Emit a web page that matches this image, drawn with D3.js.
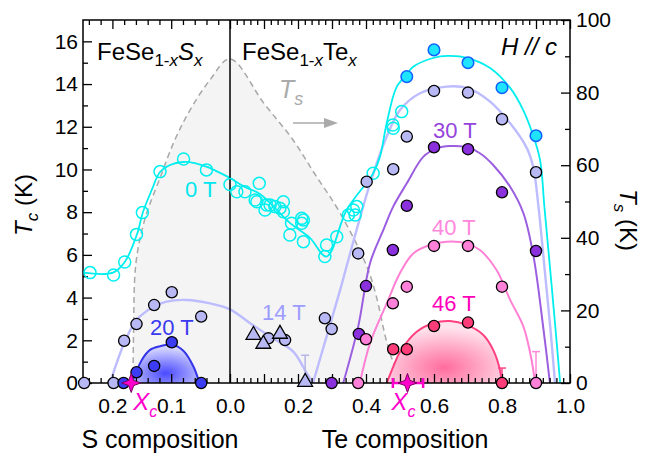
<!DOCTYPE html>
<html>
<head>
<meta charset="utf-8">
<script src="https://d3js.org/d3.v7.min.js"></script>
<style>
body { margin: 0; background: #fff; }
svg { font-family: "Liberation Sans", Arial, sans-serif; }
.tick line { stroke: #000; stroke-width: 1.3; }
.tick text { font-size: 21px; fill: #000; font-family: "Liberation Sans", Arial, sans-serif; }
</style>
</head>
<body>
<svg></svg>
<script>

var width = 664;
var height = 456;

// composition axis: negative = S content (FeSe1-xSx), positive = Te content (FeSe1-xTex)
// every point is [composition, Tc (K)]

// 0 T, open circles
var open0T = [[-0.238,5.17],[-0.198,5.06],[-0.179,5.67],[-0.159,6.96],[-0.149,7.98],[-0.119,9.9],[-0.079,10.49],[-0.040,9.98],[0,9.3],
  [0.020,8.96],[0.044,8.96],[0.074,8.57],[0.079,8.49],[0.086,9.35],[0.103,8.10],[0.108,8.34],[0.118,8.34],[0.132,8.26],[0.147,8.18],
  [0.157,8.49],[0.157,8.02],[0.176,6.93],[0.181,7.48],[0.211,7.71],[0.216,7.63],[0.211,7.48],[0.216,6.62],[0.279,5.92],[0.284,6.46],
  [0.314,6.85],[0.348,7.87],[0.363,8.10],[0.368,7.87],[0.373,8.26],[0.421,9.82],[0.479,12.08],[0.480,11.93],[0.505,12.71]];
var filled0T = [[0.52,14.35],[0.6,15.6],[0.7,15.0],[0.8,13.83],[0.9,11.58]];
var fit0T = [[-0.25,5.17],[-0.199,5.17],[-0.179,5.67],[-0.158,6.98],[-0.148,8.01],[-0.133,9.04],[-0.119,9.88],[-0.102,10.21],
  [-0.080,10.35],[-0.060,10.30],[-0.039,10.12],[-0.017,9.84],[0,9.6],[0.044,9.18],[0.088,8.85],[0.176,7.5],[0.235,6.8],[0.284,5.92],
  [0.343,8.10],[0.421,9.82],[0.441,10.59],[0.461,12.18],[0.490,13.86],[0.520,14.45],[0.538,14.80],[0.597,15.22],[0.641,15.32],
  [0.700,15.22],[0.765,14.75],[0.824,13.82],[0.862,12.79],[0.891,11.62],[0.912,10.44],[0.925,8.2],[0.94,5.6],[0.957,2.6],[0.971,0]];

// 14 T
var dots14T = [[-0.248,0],[-0.198,0],[-0.18,1.98],[-0.159,2.76],[-0.129,3.65],[-0.099,4.25],[-0.049,3.11],
  [0.113,2.09],[0.162,2.01],[0.279,3.03],[0.299,2.53],[0.377,6.07],[0.402,9.43],[0.48,10.01],[0.52,11.54],[0.6,13.68],[0.7,13.6],[0.8,12.35],[0.9,9.87]];
var tri14T = [[0.069,2.2],[0.098,1.78],[0.147,2.25],[0.221,0]];
var fit14Ta = [[-0.204,0],[-0.18,1.86],[-0.159,2.95],[-0.130,3.57],[-0.108,3.81],[-0.074,3.89],[-0.034,3.73],[0,3.45],
  [0.059,2.80],[0.127,2.09],[0.186,1.47],[0.226,0.45],[0.244,0]];
var fit14Tb = [[0.244,0],[0.284,2.17],[0.324,4.36],[0.348,5.76],[0.412,9.35],[0.461,11.54],[0.5,12.79],[0.559,13.57],[0.637,13.88],
  [0.701,13.80],[0.765,13.18],[0.824,12.16],[0.873,11.0],[0.892,10.1],[0.907,8.3],[0.925,5.4],[0.942,2.6],[0.956,0]];

// 20 T
var dots20T = [[-0.181,0],[-0.159,0.5],[-0.129,0.8],[-0.099,1.91],[-0.049,0]];
var dome20T = [[-0.167,0],[-0.150,1.08],[-0.136,1.55],[-0.119,1.72],[-0.099,1.8],[-0.079,1.5],[-0.062,0.76],[-0.052,0]];

// 30 T
var dots30T = [[0.299,0],[0.379,2.30],[0.4,4.54],[0.479,6.23],[0.52,8.30],[0.6,11.04],[0.7,10.95],[0.8,8.93],[0.9,6.18]];
var fit30T = [[0.333,0],[0.377,2.64],[0.412,5.62],[0.451,7.17],[0.480,8.26],[0.520,9.35],[0.569,10.60],[0.608,10.99],[0.647,11.10],
  [0.696,11.04],[0.735,10.76],[0.774,10.21],[0.824,9.19],[0.863,7.95],[0.892,6.0],[0.921,2.64],[0.941,0]];

// 40 T
var dots40T = [[0.377,0],[0.4,2.05],[0.479,3.73],[0.52,4.51],[0.6,6.42],[0.7,6.42],[0.8,4.51],[0.9,0]];
var fit40T = [[0.382,0],[0.412,1.87],[0.461,3.73],[0.5,5.15],[0.539,6.07],[0.588,6.46],[0.637,6.62],[0.696,6.54],[0.735,6.23],
  [0.784,5.29],[0.824,3.89],[0.863,2.64],[0.887,1.08],[0.897,0]];

// 46 T
var dots46T = [[0.48,1.58],[0.52,1.58],[0.6,2.67],[0.7,2.83],[0.8,0]];
var dome46T = [[0.461,0],[0.480,0.76],[0.5,1.45],[0.549,2.40],[0.598,2.80],[0.647,2.90],[0.696,2.72],[0.745,2.25],[0.774,1.55],[0.794,0.61],[0.799,0]];

// upper error bars [composition, Tc top, colour]
var errBars = [[0.221,1.3,"#b4b4e6"],[0.9,1.47,"#ff88dd"],[0.8,0.7,"#ff4488"]];

// structural transition Ts (K), right axis
var tsLine = [[-0.165,0],[-0.164,14],[-0.160,33],[-0.145,45],[-0.119,56.5],[-0.094,66.9],[-0.068,75.2],[-0.034,83.5],
  [0,89.3],[0.1,77],[0.185,67],[0.25,57.5],[0.324,46.8],[0.403,32],[0.43,24],[0.462,11],[0.49,3.5],[0.515,0]];

// critical compositions Xc
var xcS = -0.168;
var xcTe = [0.522, 0.479, 0.568];

var xLabels = [-0.2,-0.1,0,0.2,0.4,0.6,0.8,1.0];
var tcLabels = [0,2,4,6,8,10,12,14,16];
var tsLabels = [0,20,40,60,80,100];

var svg = d3.select("svg").attr("width", width).attr("height", height);

var x = d3.scaleLinear().domain([-0.25, 0, 1]).range([83, 230, 570]);
var y = d3.scaleLinear().domain([0, 17]).range([383, 20]);
var yTs = d3.scaleLinear().domain([0, 100]).range([383, 20]);

var defs = svg.append("defs");
function radial(id, c0, c1) {
	var g = defs.append("radialGradient").attr("id", id).attr("cx", "50%").attr("cy", "75%").attr("r", "65%");
	g.append("stop").attr("offset", "0%").attr("stop-color", c0);
	g.append("stop").attr("offset", "100%").attr("stop-color", c1);
}
radial("g20", "#4a4aff", "#d4d4ff");
radial("g46", "#ff6c9e", "#ffe4ee");

var fitLine = d3.line()
	.x(function(d) { return x(d[0]); })
	.y(function(d) { return y(d[1]); })
	.curve(d3.curveCatmullRom.alpha(0.5));

var fitArea = d3.area()
	.x(function(d) { return x(d[0]); })
	.y0(y(0))
	.y1(function(d) { return y(d[1]); })
	.curve(d3.curveCatmullRom.alpha(0.5));

// Ts dome, grey fill + dashed line
var tsArea = d3.area()
	.x(function(d) { return x(d[0]); })
	.y0(yTs(0))
	.y1(function(d) { return yTs(d[1]); })
	.curve(d3.curveCatmullRom.alpha(0.5));
svg.append("path").attr("d", tsArea(tsLine)).attr("fill", "#f4f4f4");
svg.append("path").attr("d", tsArea.lineY1()(tsLine))
	.attr("fill", "none").attr("stroke", "#a8a8a8").attr("stroke-width", 1.5).attr("stroke-dasharray", "6,4");

// domes
svg.append("path").attr("d", fitArea(dome20T)).attr("fill", "url(#g20)");
svg.append("path").attr("d", fitArea(dome46T)).attr("fill", "url(#g46)");

function drawFit(data, color, w) {
	svg.append("path").attr("d", fitLine(data))
		.attr("fill", "none").attr("stroke", color).attr("stroke-width", w);
}
drawFit(fit14Ta, "#bcbcff", 2.4);
drawFit(fit14Tb, "#bcbcff", 2.4);
drawFit(fit0T, "#00eeee", 1.8);
drawFit(fit30T, "#9b5ee0", 2);
drawFit(fit40T, "#ff80d4", 2);
drawFit(dome46T, "#ff4080", 2);
drawFit(dome20T, "#3434e8", 2);

// zero line between the two series
svg.append("line").attr("x1", x(0)).attr("x2", x(0)).attr("y1", 20).attr("y2", 383)
	.attr("stroke", "#000").attr("stroke-width", 1.5);

// error bars
errBars.forEach(function(e) {
	var g = svg.append("g").attr("stroke", e[2]).attr("stroke-width", 1.5);
	g.append("line").attr("x1", x(e[0])).attr("x2", x(e[0])).attr("y1", y(0)).attr("y2", y(e[1]));
	g.append("line").attr("x1", x(e[0]) - 4).attr("x2", x(e[0]) + 4).attr("y1", y(e[1])).attr("y2", y(e[1]));
});

// axes
function addAxis(gen, tx, ty) {
	var g = svg.append("g").attr("transform", "translate(" + tx + "," + ty + ")").call(gen);
	g.select(".domain").remove();
	return g;
}
var minorX = d3.range(-12, 50).map(function(i) { return i * 0.02; }).filter(function(v) { return Math.round(v * 100) % 10 !== 0; });
var majorX = d3.range(-2, 11).map(function(i) { return i / 10; });
var noLabel = function() { return ""; };

addAxis(d3.axisBottom(x).tickValues(minorX).tickSizeInner(-5).tickSizeOuter(0).tickFormat(noLabel), 0, 383);
addAxis(d3.axisBottom(x).tickValues(majorX).tickSizeInner(-9).tickSizeOuter(0).tickFormat(noLabel), 0, 383);
addAxis(d3.axisBottom(x).tickValues(xLabels).tickSize(0).tickPadding(15)
	.tickFormat(function(d) { return d3.format(".1f")(Math.abs(d)); }), 0, 383);
addAxis(d3.axisTop(x).tickValues(minorX).tickSizeInner(-5).tickSizeOuter(0).tickFormat(noLabel), 0, 20);
addAxis(d3.axisTop(x).tickValues(majorX).tickSizeInner(-9).tickSizeOuter(0).tickFormat(noLabel), 0, 20);

addAxis(d3.axisLeft(y).tickValues(d3.range(1, 17, 2)).tickSizeInner(-5).tickSizeOuter(0).tickFormat(noLabel), 83, 0);
addAxis(d3.axisLeft(y).tickValues(tcLabels).tickSizeInner(-9).tickSizeOuter(0).tickPadding(5), 83, 0)
	.selectAll(".tick text").attr("x", -5);
addAxis(d3.axisRight(yTs).tickValues(d3.range(10, 100, 20)).tickSizeInner(-5).tickSizeOuter(0).tickFormat(noLabel), 570, 0);
addAxis(d3.axisRight(yTs).tickValues(tsLabels).tickSizeInner(-9).tickSizeOuter(0).tickPadding(6), 570, 0)
	.selectAll(".tick text").attr("x", 6);

svg.append("rect").attr("x", 83).attr("y", 20).attr("width", 487).attr("height", 363)
	.attr("fill", "none").attr("stroke", "#000").attr("stroke-width", 1.5);

// points
function dots(data, fill, stroke, r, sw) {
	svg.append("g").selectAll("circle").data(data).join("circle")
		.attr("cx", function(d) { return x(d[0]); })
		.attr("cy", function(d) { return y(d[1]); })
		.attr("r", r).attr("fill", fill).attr("stroke", stroke).attr("stroke-width", sw);
}
dots(open0T, "none", "#00f0f0", 6, 1.5);
dots(dots14T, "#b8b8f4", "#000", 5.6, 1.3);
svg.append("g").selectAll("path").data(tri14T).join("path")
	.attr("d", d3.symbol(d3.symbolTriangle, 95))
	.attr("transform", function(d) { return "translate(" + x(d[0]) + "," + (y(d[1]) - 1) + ")"; })
	.attr("fill", "#b8b8f4").attr("stroke", "#000").attr("stroke-width", 1.3);
dots(dots20T, "#3c3cf4", "#000", 5.6, 1.3);
dots(dots30T, "#8a30dc", "#000", 5.6, 1.3);
dots(dots40T, "#ff80d8", "#000", 5.6, 1.3);
dots(dots46T, "#ff3d78", "#000", 5.6, 1.3);
dots(filled0T, "#1ee4ff", "#1060ff", 5.8, 1.5);

// Xc markers
var star4 = {
	draw: function(ctx, size) {
		var R = Math.sqrt(size), r = R * 0.38;
		for (var i = 0; i < 8; i++) {
			var a = i * Math.PI / 4 - Math.PI / 2, rr = i % 2 ? r : R;
			if (i) ctx.lineTo(rr * Math.cos(a), rr * Math.sin(a));
			else ctx.moveTo(rr * Math.cos(a), rr * Math.sin(a));
		}
		ctx.closePath();
	}
};
var xcBar = svg.append("g").attr("stroke", "#ff00cc").attr("stroke-width", 2.5);
xcBar.append("line").attr("x1", x(xcTe[1])).attr("x2", x(xcTe[2])).attr("y1", y(0)).attr("y2", y(0));
xcBar.append("line").attr("x1", x(xcTe[1])).attr("x2", x(xcTe[1])).attr("y1", y(0) - 5).attr("y2", y(0) + 5);
xcBar.append("line").attr("x1", x(xcTe[2])).attr("x2", x(xcTe[2])).attr("y1", y(0) - 5).attr("y2", y(0) + 5);
svg.append("g").selectAll("path").data([xcS, xcTe[0]]).join("path")
	.attr("d", d3.symbol(star4, 90))
	.attr("transform", function(d) { return "translate(" + x(d) + "," + y(0) + ")"; })
	.attr("fill", "#ff00cc").attr("stroke", "#7a0060").attr("stroke-width", 1);

// texts
function label(txt, px, py, color, size) {
	return svg.append("text").attr("x", px).attr("y", py).attr("fill", color)
		.attr("font-size", size).text(txt);
}
label("0 T", 185, 197, "#00e6ee", 22);
label("14 T", 262, 320, "#9c9cff", 22);
label("20 T", 150, 335, "#3a3af0", 22);
label("30 T", 433, 138, "#9444dc", 22);
label("40 T", 432, 235, "#ff88dd", 22);
label("46 T", 432, 311, "#ff00bb", 22);

// parts: [text, italic, mode] mode 1 = start subscript, 2 = stay subscript, -1 = back to baseline
function chem(px, py, parts) {
	var t = svg.append("text").attr("x", px).attr("y", py).attr("font-size", 24).attr("fill", "#000");
	parts.forEach(function(p) {
		var s = t.append("tspan").text(p[0]);
		if (p[1]) s.attr("font-style", "italic");
		if (p[2] === 1) s.attr("font-size", 17).attr("dy", 6);
		if (p[2] === 2) s.attr("font-size", 17);
		if (p[2] === -1) s.attr("dy", -6);
	});
	return t;
}
chem(97, 60, [["FeSe",0,0],["1-",0,1],["x",1,2],["S",1,-1],["x",1,1]]);
chem(242, 60, [["FeSe",0,0],["1-",0,1],["x",1,2],["Te",0,-1],["x",1,1]]);
svg.append("text").attr("x", 557).attr("y", 55).attr("text-anchor", "end")
	.attr("font-size", 24).attr("font-style", "italic").text("H // c");

var tsLbl = svg.append("text").attr("x", 279).attr("y", 98).attr("fill", "#aaa").attr("font-size", 25);
tsLbl.append("tspan").attr("font-style", "italic").text("T");
tsLbl.append("tspan").attr("font-style", "italic").attr("font-size", 18).attr("dy", 7).text("s");
svg.append("line").attr("x1", 293).attr("x2", 326).attr("y1", 123).attr("y2", 123).attr("stroke", "#aaa").attr("stroke-width", 1.5);
svg.append("path").attr("d", "M324,118L338,123L324,128Z").attr("fill", "#aaa");

function xcLabel(px) {
	var t = svg.append("text").attr("x", px).attr("y", 410).attr("fill", "#ff00cc").attr("font-size", 24).attr("font-style", "italic");
	t.append("tspan").text("X");
	t.append("tspan").attr("font-size", 16).attr("dy", 7).text("c");
}
xcLabel(x(xcS) + 2);
xcLabel(x(xcTe[0]) - 16);

// axis titles
var lt = svg.append("text").attr("transform", "translate(32,205) rotate(-90)").attr("text-anchor", "middle").attr("font-size", 24);
lt.append("tspan").attr("font-style", "italic").text("T");
lt.append("tspan").attr("font-style", "italic").attr("font-size", 17).attr("dy", 6).text("c");
lt.append("tspan").attr("dy", -6).text(" (K)");
var rt = svg.append("text").attr("transform", "translate(620,220) rotate(90)").attr("text-anchor", "middle").attr("font-size", 24);
rt.append("tspan").attr("font-style", "italic").text("T");
rt.append("tspan").attr("font-style", "italic").attr("font-size", 17).attr("dy", 6).text("s");
rt.append("tspan").attr("dy", -6).text(" (K)");

svg.append("text").attr("x", 160).attr("y", 448).attr("text-anchor", "middle").attr("font-size", 25).text("S composition");
svg.append("text").attr("x", 405).attr("y", 448).attr("text-anchor", "middle").attr("font-size", 25).text("Te composition");

</script>
</body>
</html>
